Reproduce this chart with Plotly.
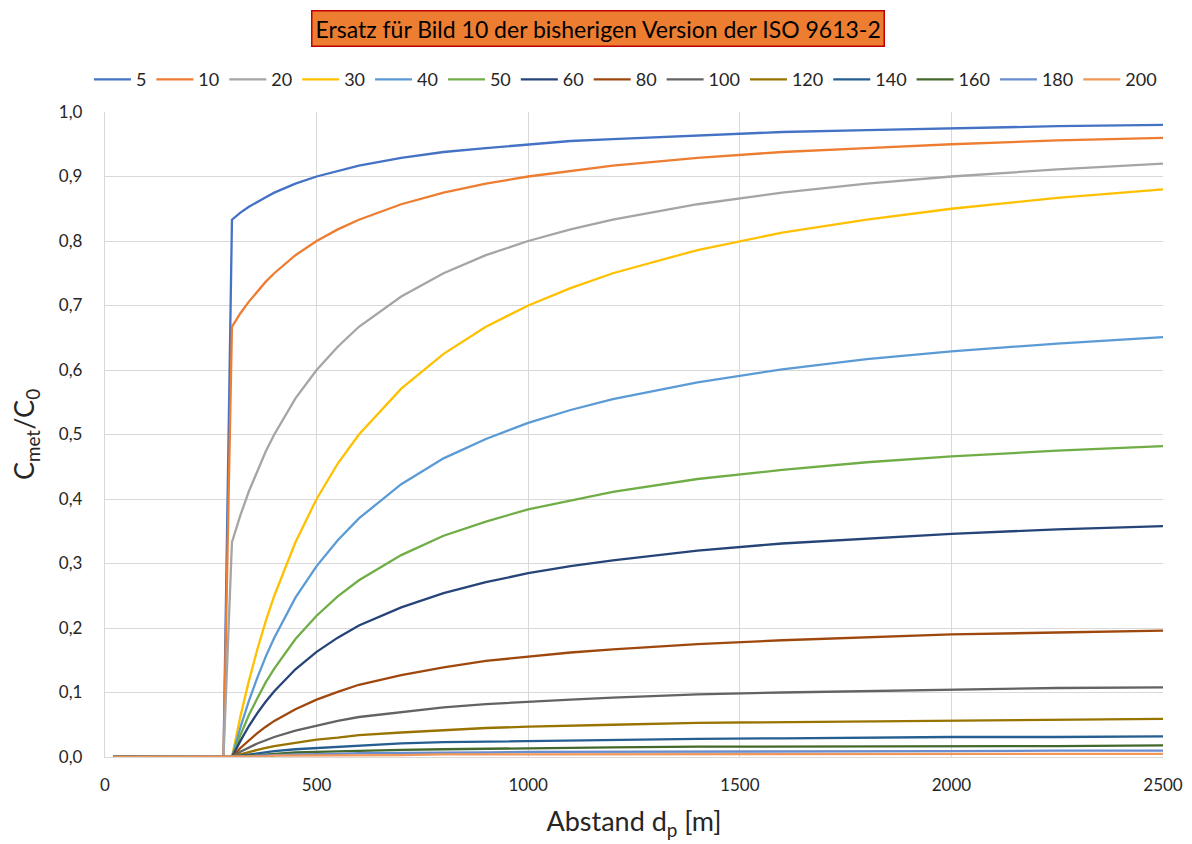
import plotly.graph_objects as go

# Distance d_p [m]
x_vals = [20, 280, 300, 320, 340, 360, 380, 400, 450, 500, 550, 600, 700, 800, 900,
          1000, 1100, 1200, 1400, 1600, 1800, 2000, 2250, 2500]

series_names = ["5", "10", "20", "30", "40", "50", "60", "80", "100", "120", "140", "160", "180", "200"]

s5 = [0, 0, 0.833, 0.844, 0.853, 0.861, 0.868, 0.875, 0.889, 0.900, 0.909, 0.917, 0.929, 0.938, 0.944,
      0.950, 0.955, 0.958, 0.964, 0.969, 0.972, 0.975, 0.978, 0.980]
s10 = [0, 0, 0.667, 0.688, 0.706, 0.722, 0.737, 0.750, 0.778, 0.800, 0.818, 0.833, 0.857, 0.875, 0.889,
       0.900, 0.909, 0.917, 0.929, 0.938, 0.944, 0.950, 0.956, 0.960]
s20 = [0, 0, 0.333, 0.375, 0.412, 0.444, 0.474, 0.500, 0.556, 0.600, 0.636, 0.667, 0.714, 0.750, 0.778,
       0.800, 0.818, 0.833, 0.857, 0.875, 0.889, 0.900, 0.911, 0.920]
s30 = [0, 0, 0.0, 0.063, 0.118, 0.167, 0.211, 0.250, 0.333, 0.400, 0.455, 0.500, 0.571, 0.625, 0.667,
       0.700, 0.727, 0.750, 0.786, 0.813, 0.833, 0.850, 0.867, 0.880]
s40 = [0, 0, 0.0, 0.046, 0.087, 0.123, 0.156, 0.185, 0.247, 0.296, 0.336, 0.370, 0.423, 0.463, 0.493,
       0.518, 0.538, 0.555, 0.581, 0.601, 0.617, 0.629, 0.641, 0.651]
s50 = [0, 0, 0.0, 0.034, 0.065, 0.091, 0.116, 0.137, 0.183, 0.219, 0.249, 0.274, 0.313, 0.343, 0.365,
       0.384, 0.398, 0.411, 0.431, 0.445, 0.457, 0.466, 0.475, 0.482]
s60 = [0, 0, 0.0, 0.025, 0.048, 0.068, 0.086, 0.102, 0.136, 0.163, 0.185, 0.204, 0.232, 0.254, 0.271,
       0.285, 0.296, 0.305, 0.320, 0.331, 0.339, 0.346, 0.353, 0.358]
s80 = [0, 0, 0.0, 0.014, 0.026, 0.037, 0.047, 0.056, 0.074, 0.089, 0.101, 0.112, 0.127, 0.139, 0.149,
       0.156, 0.162, 0.167, 0.175, 0.181, 0.186, 0.190, 0.193, 0.196]
s100 = [0, 0, 0.0, 0.008, 0.015, 0.021, 0.026, 0.031, 0.041, 0.049, 0.056, 0.062, 0.070, 0.077, 0.082,
        0.086, 0.089, 0.092, 0.097, 0.100, 0.102, 0.105, 0.107, 0.108]
s120 = [0, 0, 0.0, 0.004, 0.008, 0.011, 0.014, 0.017, 0.022, 0.027, 0.030, 0.034, 0.038, 0.042, 0.045,
        0.047, 0.049, 0.050, 0.053, 0.054, 0.056, 0.057, 0.058, 0.059]
s140 = [0, 0, 0.0, 0.002, 0.004, 0.006, 0.008, 0.009, 0.012, 0.014, 0.016, 0.018, 0.021, 0.023, 0.024,
        0.025, 0.026, 0.027, 0.028, 0.029, 0.030, 0.031, 0.031, 0.032]
s160 = [0, 0, 0.0, 0.001, 0.002, 0.003, 0.004, 0.005, 0.007, 0.008, 0.009, 0.010, 0.011, 0.012, 0.013,
        0.014, 0.015, 0.015, 0.016, 0.016, 0.017, 0.017, 0.017, 0.018]
s180 = [0, 0, 0.0, 0.001, 0.001, 0.002, 0.002, 0.003, 0.004, 0.004, 0.005, 0.006, 0.006, 0.007, 0.007,
        0.008, 0.008, 0.008, 0.009, 0.009, 0.009, 0.009, 0.010, 0.010]
s200 = [0, 0, 0.0, 0.000, 0.001, 0.001, 0.001, 0.002, 0.002, 0.002, 0.003, 0.003, 0.003, 0.004, 0.004,
        0.004, 0.004, 0.005, 0.005, 0.005, 0.005, 0.005, 0.005, 0.005]

series_values = [s5, s10, s20, s30, s40, s50, s60, s80, s100, s120, s140, s160, s180, s200]

colors = ["#4472C4", "#ED7D31", "#A5A5A5", "#FFC000", "#5B9BD5", "#70AD47", "#264478",
          "#9E480E", "#636363", "#997300", "#255E91", "#43682B", "#698ED0", "#F1975A"]

FONT = "Lato, 'Open Sans', sans-serif"

fig = go.Figure()
for name, vals, col in zip(series_names, series_values, colors):
    fig.add_trace(go.Scatter(x=x_vals, y=vals, mode="lines", name=name,
                             line=dict(color=col, width=2.3)))

fig.update_layout(
    width=1192, height=844,
    margin=dict(l=105, r=29, t=112, b=87, autoexpand=False),
    paper_bgcolor="white", plot_bgcolor="white",
    separators=",.",
    font=dict(family=FONT, color="#262626", size=17),
    showlegend=True,
    legend=dict(orientation="h", xref="paper", x=-0.0152, xanchor="left",
                yref="paper", y=1.05, yanchor="middle",
                font=dict(size=18, color="#262626"), itemwidth=37,
                traceorder="normal", bgcolor="rgba(0,0,0,0)", tracegroupgap=0),
    xaxis=dict(range=[0, 2500], dtick=500, tick0=0, tickformat="d",
               showgrid=True, gridcolor="#D9D9D9", gridwidth=1.3,
               showline=True, linecolor="#D9D9D9", linewidth=1.3, mirror=False,
               zeroline=False, ticks="", ticklabelstandoff=12,
               tickfont=dict(size=17, color="#262626"),
               title=dict(text="Abstand d<sub>p</sub> [m]", font=dict(size=27, color="#262626"), standoff=18)),
    yaxis=dict(range=[0, 1.0], dtick=0.1, tick0=0, tickformat=".1f",
               showgrid=True, gridcolor="#D9D9D9", gridwidth=1.3,
               showline=True, linecolor="#D9D9D9", linewidth=1.3,
               zeroline=False, ticks="", ticklabelstandoff=18,
               tickfont=dict(size=17, color="#262626"),
               title=dict(text="C<sub>met</sub>/C<sub>0</sub>", font=dict(size=27, color="#262626"), standoff=16)),
)

fig.add_annotation(
    text="Ersatz für Bild 10 der bisherigen Version der ISO 9613-2",
    xref="paper", yref="paper", x=0.466, y=1.0, yshift=84, yanchor="middle", xanchor="center",
    showarrow=False, font=dict(family=FONT, size=23, color="#000000"),
    bgcolor="#ED7D31", bordercolor="#C00000", borderwidth=1.5, borderpad=3,
)

fig.write_html("out.html")
